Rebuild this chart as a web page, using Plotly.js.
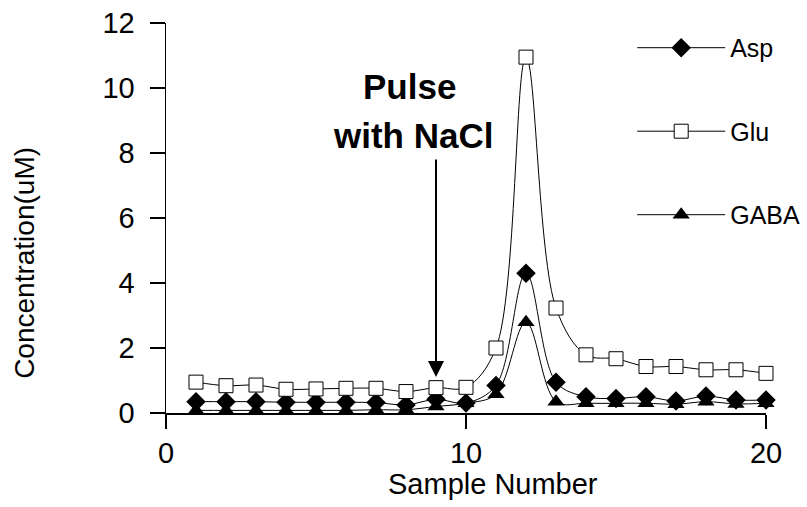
<!DOCTYPE html>
<html>
<head>
<meta charset="utf-8">
<script src="https://cdn.plot.ly/plotly-3.0.1.min.js"></script>
<style>html,body{margin:0;padding:0;background:#fff;}#chart{width:807px;height:507px;}</style>
</head>
<body>
<div id="chart"></div>
<script>
var samples = [1,2,3,4,5,6,7,8,9,10,11,12,13,14,15,16,17,18,19,20];
var asp  = [0.35,0.35,0.35,0.33,0.33,0.33,0.32,0.25,0.42,0.31,0.85,4.3,0.95,0.5,0.45,0.5,0.37,0.52,0.4,0.4];
var glu  = [0.95,0.84,0.86,0.73,0.74,0.76,0.76,0.66,0.78,0.79,2.0,10.95,3.23,1.79,1.67,1.43,1.43,1.33,1.33,1.22];
var gaba = [0.08,0.08,0.08,0.08,0.08,0.08,0.1,0.1,0.2,0.3,0.58,2.79,0.35,0.3,0.3,0.3,0.27,0.35,0.28,0.3];
var xTicks = [0,10,20];
var yTicks = [0,2,4,6,8,10,12];

var FONT = 'Liberation Sans, Arial, sans-serif';
var lineStyle = {color:'#000', width:1, shape:'spline', smoothing:1};

var traces = [
  {x:samples, y:asp, name:'Asp', type:'scatter', mode:'lines+markers', cliponaxis:false,
   legendgroup:'a', line:lineStyle,
   marker:{symbol:'diamond', size:15, color:'#000'}},
  {x:samples, y:glu, name:'Glu', type:'scatter', mode:'lines+markers', cliponaxis:false,
   legendgroup:'b', line:lineStyle,
   marker:{symbol:'square', size:14, color:'#fff', line:{color:'#000', width:1}}},
  {x:samples, y:gaba, name:'GABA', type:'scatter', mode:'lines+markers', cliponaxis:false,
   legendgroup:'c', line:lineStyle,
   marker:{symbol:'triangle-up', size:15, color:'#000'}}
];

var layout = {
  width:807, height:507,
  margin:{l:166, r:41, t:23, b:94, autoexpand:false},
  paper_bgcolor:'#fff', plot_bgcolor:'#fff',
  font:{family:FONT, color:'#000', size:26},
  showlegend:true,
  legend:{x:0.777, xanchor:'left', y:0.995, yanchor:'top', bgcolor:'rgba(0,0,0,0)',
          font:{family:FONT, size:25, color:'#000'}, itemwidth:88,
          traceorder:'grouped', tracegroupgap:48},
  xaxis:{range:[0,20], tickvals:xTicks, ticktext:xTicks.map(String), showgrid:false, zeroline:false,
         showline:true, linecolor:'#000', linewidth:1.5, ticks:'outside', ticklen:14, tickwidth:1.5,
         tickcolor:'#000', tickfont:{family:FONT, size:29}, ticklabelstandoff:0},
  yaxis:{range:[0,12], tickvals:yTicks, ticktext:yTicks.map(String), showgrid:false, zeroline:false,
         showline:true, linecolor:'#000', linewidth:1.5, ticks:'outside', ticklen:15, tickwidth:1.5,
         tickcolor:'#000', tickfont:{family:FONT, size:29}, ticklabelstandoff:9},
  annotations:[
    {xref:'paper', yref:'paper', x:0.545, y:-0.183, text:'Sample Number', showarrow:false,
     xanchor:'center', yanchor:'middle', font:{family:FONT, size:29}},
    {xref:'paper', yref:'paper', x:-0.235, y:0.385, text:'Concentration(uM)', showarrow:false,
     textangle:-90, xanchor:'center', yanchor:'middle', font:{family:FONT, size:28}},
    {xref:'x', yref:'y', x:8.1, y:10.05, text:'<b>Pulse</b>', showarrow:false,
     xanchor:'center', yanchor:'middle', font:{family:FONT, size:35}},
    {xref:'x', yref:'y', x:8.23, y:8.55, text:'<b>with NaCl</b>', showarrow:false,
     xanchor:'center', yanchor:'middle', font:{family:FONT, size:35}},
    {xref:'x', yref:'y', x:9, y:1.11, axref:'x', ayref:'y', ax:9, ay:7.85, text:'',
     showarrow:true, arrowhead:2, arrowsize:1.6, arrowwidth:2, arrowcolor:'#000'}
  ]
};

Plotly.newPlot('chart', traces, layout, {displayModeBar:false, staticPlot:true});
</script>
</body>
</html>
